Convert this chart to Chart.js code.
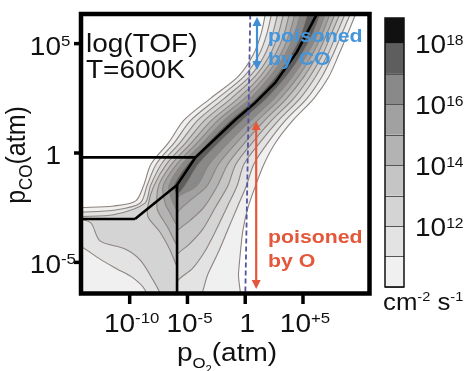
<!DOCTYPE html>
<html>
<head>
<meta charset="utf-8">
<script src="https://cdn.jsdelivr.net/npm/chart.js@4.4.0/dist/chart.umd.min.js"></script>
<style>
  html, body { margin: 0; padding: 0; background: #fff; }
</style>
</head>
<body>
<canvas id="myChart" width="468" height="371"></canvas>
<script>
// axes are log10 of the pressures, in decades
var pO2Ticks = [-10, -5, 0, 5];
var pO2Labels = [['10', '-10'], ['10', '-5'], ['1', ''], ['10', '+5']];
var pCOTicks = [-5, 0, 5];
var pCOLabels = [['10', '-5'], ['1', ''], ['10', '5']];

// colour bar: log10 TOF (cm-2 s-1)
var tofLevels = [10, 11, 12, 13, 14, 15, 16, 17, 18];
var tofTicks = [12, 14, 16, 18];
var tofLabels = [['10', '12'], ['10', '14'], ['10', '16'], ['10', '18']];
var levelColors = ['#f0f0f0', '#e3e3e3', '#d4d4d4', '#c5c5c5', '#b3b3b3', '#a1a1a1', '#898989', '#5e5e5e', '#111111'];

// contour regions log(TOF) >= level, points are [log pO2, log pCO]
var contour10 = [[1.9, 6.8], [1.4, 5.5], [0.7, 4.5], [-0.6, 3.5], [-3.0, 2.5], [-5.3, 1.5], [-6.6, 0.5], [-8.15, -0.5], [-8.8, -1.5],
  [-9.5, -2.2], [-11.4, -2.42], [-14.3, -2.5], [-15, -2.52], [-15, -7], [-0.75, -7],
  [-0.58, -5.5], [-0.41, -4.5], [-0.19, -3.5], [0.24, -2.5], [0.89, -1.5], [1.63, -0.5], [2.66, 0.5], [4.14, 1.5], [5.95, 2.5],
  [7.25, 3.5], [8.1, 4.5], [8.9, 5.5], [9.9, 6.8]];
var contour11 = [[2.45, 6.8], [1.9, 5.5], [1.2, 4.5], [-0.1, 3.5], [-2.4, 2.5], [-4.7, 1.5], [-6.1, 0.5], [-7.7, -0.5], [-8.5, -1.5],
  [-9.1, -2.3], [-11.4, -2.62], [-14.3, -2.7], [-15, -2.72], [-15, -4.2], [-14.3, -4.25], [-12.57, -4.85], [-11.1, -5.3],
  [-9.71, -5.71], [-8.67, -6.26], [-8.3, -7], [-4.4, -7],
  [-3.2, -5.5], [-2.3, -4.5], [-1.5, -3.5], [-0.7, -2.5], [0.1, -1.5], [0.75, -0.5], [2.0, 0.5], [3.5, 1.5], [5.35, 2.5],
  [6.65, 3.5], [7.6, 4.5], [8.4, 5.5], [9.45, 6.8]];
var contour12 = [[3.0, 6.8], [2.4, 5.5], [1.7, 4.5], [0.4, 3.5], [-1.8, 2.5], [-4.1, 1.5], [-5.6, 0.5], [-7.25, -0.5], [-8.2, -1.5],
  [-8.7, -2.3], [-11.4, -2.82], [-14.3, -2.9], [-15, -2.92], [-15, -3.0], [-14.3, -3.02], [-13.35, -3.2], [-12.57, -4.02],
  [-10.4, -4.39], [-9.1, -4.89], [-7.98, -5.81], [-7.2, -6.6], [-7.1, -7], [-5.9, -7], [-5.9, -5.9],
  [-4.6, -5.3], [-3.5, -4.5], [-2.5, -3.5], [-1.6, -2.5], [-0.7, -1.5], [-0.1, -0.5], [1.3, 0.5], [2.9, 1.5], [4.75, 2.5],
  [6.1, 3.5], [7.15, 4.5], [7.95, 5.5], [9.0, 6.8]];
var contour13 = [[3.5, 6.8], [2.9, 5.5], [2.15, 4.5], [0.85, 3.5], [-1.2, 2.5], [-3.5, 1.5], [-5.1, 0.5], [-6.8, -0.5], [-7.9, -1.5],
  [-8.41, -2.38], [-8.41, -2.93], [-7.38, -3.61], [-6.51, -4.43], [-5.9, -5.17], [-5.9, -4.66],
  [-4.9, -4.2], [-3.7, -3.5], [-2.6, -2.5], [-1.5, -1.5], [-0.8, -0.5], [0.65, 0.5], [2.3, 1.5], [4.2, 2.5],
  [5.6, 3.5], [6.7, 4.5], [7.5, 5.5], [8.55, 6.8]];
var contour14 = [[4.0, 6.8], [3.4, 5.5], [2.6, 4.5], [1.3, 3.5], [-0.6, 2.5], [-2.9, 1.5], [-4.6, 0.5], [-6.35, -0.5], [-7.5, -1.5],
  [-7.64, -2.51], [-7.38, -2.83], [-6.68, -3.43], [-5.9, -4.21], [-5.9, -3.6],
  [-4.8, -3.1], [-3.6, -2.5], [-2.4, -1.5], [-1.5, -0.5], [0.0, 0.5], [1.7, 1.5], [3.6, 2.5],
  [5.1, 3.5], [6.25, 4.5], [7.1, 5.5], [8.1, 6.8]];
var contour15 = [[4.5, 6.8], [3.85, 5.5], [3.05, 4.5], [1.75, 3.5], [-0.05, 2.5], [-2.35, 1.5], [-4.1, 0.5], [-5.9, -0.5], [-7.1, -1.5],
  [-6.94, -2.29], [-6.51, -2.74], [-5.9, -3.29], [-5.9, -2.74],
  [-4.6, -2.1], [-3.3, -1.5], [-2.3, -0.5], [-0.7, 0.5], [1.1, 1.5], [3.05, 2.5],
  [4.6, 3.5], [5.8, 4.5], [6.7, 5.5], [7.65, 6.8]];
var contour16 = [[5.0, 6.8], [4.3, 5.5], [3.45, 4.5], [2.15, 3.5], [0.45, 2.5], [-1.8, 1.5], [-3.6, 0.5], [-5.45, -0.5], [-6.6, -1.5],
  [-6.34, -2.15], [-5.9, -2.6], [-5.9, -2.06],
  [-4.2, -1.5], [-3.1, -0.5], [-1.4, 0.5], [0.5, 1.5], [2.5, 2.5], [4.1, 3.5], [5.35, 4.5], [6.3, 5.5], [7.25, 6.8]];
var contour17 = [[5.6, 6.8], [4.85, 5.5], [3.95, 4.5], [2.6, 3.5], [0.9, 2.5], [-1.3, 1.5], [-3.2, 0.5], [-5.0, -0.5], [-6.2, -1.5],
  [-5.9, -1.9], [-5.2, -1.5], [-4.0, -0.5], [-2.2, 0.5], [-0.2, 1.5], [1.9, 2.5], [3.6, 3.5], [4.9, 4.5], [5.9, 5.5], [6.85, 6.8]];
var contours = [contour10, contour11, contour12, contour13, contour14, contour15, contour16, contour17];

// phase boundaries and marker lines
var boundaryHigh = [[-14.6, -0.2], [-4.3, -0.2]];
var boundaryLow = [[-14.6, -3.02], [-9.54, -3.02]];
var boundaryDiag = [[-9.54, -3.02], [-5.9, -1.46], [-4.3, -0.2], [-0.88, 1.51], [0.85, 2.29], [2.58, 3.2], [4.48, 4.62], [6.3, 6.45], [6.35, 6.7]];
var boundaryVert = [[-5.9, -1.46], [-5.9, -6.7]];
var dashedLine = [[0.0, -6.7], [0.45, 6.7]];
var arrowCO = [1.02, 6.22, 3.79];   // x, y top, y bottom
var arrowO = [0.95, 1.46, -6.22];

var FONT = '"Liberation Sans", Arial, Helvetica, sans-serif';
var STRETCH = 1.12;

function toXY(arr) {
    return arr.map(function(p) { return {x: p[0], y: p[1]}; });
}

function setFont(ctx, p) {
    ctx.font = (p.bold ? 'bold ' : '') + p.size + 'px ' + FONT;
}

function partsWidth(ctx, parts) {
    var w = 0;
    parts.forEach(function(p) { setFont(ctx, p); w += ctx.measureText(p.text).width; });
    return w;
}

// text drawn a bit wider than the font, like the original figure
function drawParts(ctx, parts, x, y, align, color, rotate) {
    ctx.save();
    ctx.translate(x, y);
    ctx.scale(STRETCH, 1);
    if (rotate) ctx.rotate(-Math.PI / 2);
    var w = partsWidth(ctx, parts);
    var cx = align === 'center' ? -w / 2 : (align === 'right' ? -w : 0);
    ctx.textAlign = 'left';
    ctx.textBaseline = 'alphabetic';
    ctx.fillStyle = color || '#111';
    parts.forEach(function(p) {
        setFont(ctx, p);
        ctx.fillText(p.text, cx, p.dy || 0);
        cx += ctx.measureText(p.text).width;
    });
    ctx.restore();
}

function arrow(ctx, x, y1, y2, color) {
    var h = 9, hw = 4.5;
    ctx.save();
    ctx.strokeStyle = color;
    ctx.fillStyle = color;
    ctx.lineWidth = 2.2;
    ctx.beginPath();
    ctx.moveTo(x, y1 + h - 1);
    ctx.lineTo(x, y2 - h + 1);
    ctx.stroke();
    ctx.beginPath();
    ctx.moveTo(x, y1); ctx.lineTo(x - hw, y1 + h); ctx.lineTo(x + hw, y1 + h); ctx.closePath();
    ctx.fill();
    ctx.beginPath();
    ctx.moveTo(x, y2); ctx.lineTo(x - hw, y2 - h); ctx.lineTo(x + hw, y2 - h); ctx.closePath();
    ctx.fill();
    ctx.restore();
}

// fills each contour polygon under its own outline
var contourFill = {
    id: 'contourFill',
    beforeDatasetDraw: function(chart, args) {
        var ds = chart.data.datasets[args.index];
        if (!ds.fillColor) return;
        var ctx = chart.ctx, a = chart.chartArea, line = args.meta.dataset;
        ctx.save();
        ctx.beginPath();
        ctx.rect(a.left, a.top, a.right - a.left, a.bottom - a.top);
        ctx.clip();
        ctx.beginPath();
        if (line && line.path) {
            if (line.updateControlPoints) line.updateControlPoints(a, 'x');
            line.path(ctx);
        } else {
            args.meta.data.forEach(function(pt, i) {
                if (i === 0) ctx.moveTo(pt.x, pt.y); else ctx.lineTo(pt.x, pt.y);
            });
        }
        ctx.closePath();
        ctx.fillStyle = ds.fillColor;
        ctx.fill();
        ctx.restore();
    }
};

var frame = {
    id: 'frame',
    afterDraw: function(chart) {
        var ctx = chart.ctx, a = chart.chartArea;
        var xs = chart.scales.x, ys = chart.scales.y, cb = chart.scales.cb;

        // annotations
        var blue = '#4396dc', red = '#e4573a';
        arrow(ctx, xs.getPixelForValue(arrowCO[0]), ys.getPixelForValue(arrowCO[1]), ys.getPixelForValue(arrowCO[2]), '#3f8ed6');
        arrow(ctx, xs.getPixelForValue(arrowO[0]), ys.getPixelForValue(arrowO[1]), ys.getPixelForValue(arrowO[2]), red);
        var tx = a.left + 188;
        drawParts(ctx, [{text: 'poisoned', size: 19, bold: true}], tx, a.top + 29, 'left', blue);
        drawParts(ctx, [{text: 'by CO', size: 19, bold: true}], tx, a.top + 52, 'left', blue);
        drawParts(ctx, [{text: 'poisoned', size: 19, bold: true}], tx, a.top + 230, 'left', red);
        drawParts(ctx, [{text: 'by O', size: 19, bold: true}], tx, a.top + 254, 'left', red);
        drawParts(ctx, [{text: 'log(TOF)', size: 25}], a.left + 6, a.top + 39, 'left', '#111');
        drawParts(ctx, [{text: 'T=600K', size: 25}], a.left + 6, a.top + 65, 'left', '#111');

        // plot frame
        ctx.save();
        ctx.strokeStyle = '#000';
        ctx.lineWidth = 4.5;
        ctx.strokeRect(a.left + 1, a.top + 1, a.right - a.left - 1.5, a.bottom - a.top - 0.5);
        ctx.lineWidth = 3.5;
        pO2Ticks.forEach(function(v) {
            var px = xs.getPixelForValue(v);
            ctx.beginPath(); ctx.moveTo(px, a.bottom); ctx.lineTo(px, a.bottom + 11); ctx.stroke();
        });
        pCOTicks.forEach(function(v) {
            var py = ys.getPixelForValue(v);
            ctx.beginPath(); ctx.moveTo(a.left - 6, py); ctx.lineTo(a.left + 1, py); ctx.stroke();
        });
        ctx.restore();

        // tick labels
        pO2Ticks.forEach(function(v, i) {
            var parts = [{text: pO2Labels[i][0], size: 25}];
            if (pO2Labels[i][1]) parts.push({text: pO2Labels[i][1], size: 15, dy: -9});
            drawParts(ctx, parts, xs.getPixelForValue(v) + 2, a.bottom + 39, 'center');
        });
        pCOTicks.forEach(function(v, i) {
            var py = ys.getPixelForValue(v) + 11;
            drawParts(ctx, [{text: pCOLabels[i][0], size: 25}], a.left - 19, py, 'right');
            if (pCOLabels[i][1]) drawParts(ctx, [{text: pCOLabels[i][1], size: 15}], a.left - 19, py - 9, 'left');
        });

        // axis titles
        drawParts(ctx, [{text: 'p', size: 25}, {text: 'O', size: 15, dy: 7}, {text: '2', size: 10, dy: 12}, {text: '(atm)', size: 25}],
            (a.left + a.right) / 2 + 2, a.bottom + 68, 'center');
        drawParts(ctx, [{text: 'p', size: 25}, {text: 'CO', size: 17, dy: 6}, {text: '(atm)', size: 25}],
            25, (a.top + a.bottom) / 2 + 2, 'center', '#111', true);

        // colour bar
        var bx = a.right + 15, bw = 19;
        var top = Math.max(cb.getPixelForValue(tofLevels[tofLevels.length - 1] + 1), a.top + 5);
        var bot = cb.getPixelForValue(tofLevels[0]);
        ctx.save();
        tofLevels.forEach(function(v, i) {
            var y1 = Math.max(cb.getPixelForValue(v + 1), top), y2 = cb.getPixelForValue(v);
            ctx.fillStyle = levelColors[i];
            ctx.fillRect(bx, y1, bw, y2 - y1);
        });
        ctx.strokeStyle = '#555';
        ctx.lineWidth = 1;
        tofLevels.forEach(function(v) {
            var y = Math.round(cb.getPixelForValue(v)) + 0.5;
            ctx.beginPath(); ctx.moveTo(bx, y); ctx.lineTo(bx + bw, y); ctx.stroke();
        });
        ctx.strokeStyle = '#111';
        ctx.lineWidth = 1.5;
        ctx.strokeRect(bx, top, bw, bot - top);
        ctx.restore();
        tofTicks.forEach(function(v, i) {
            drawParts(ctx, [{text: tofLabels[i][0], size: 25}, {text: tofLabels[i][1], size: 14, dy: -8}],
                bx + bw + 11, cb.getPixelForValue(v) + 10, 'left');
        });
        drawParts(ctx, [{text: 'cm', size: 23}, {text: '-2', size: 13, dy: -9}, {text: ' s', size: 23}, {text: '-1', size: 13, dy: -9}],
            bx - 2, a.bottom + 17, 'left');
    }
};

var datasets = [];
contours.forEach(function(c, i) {
    datasets.push({
        data: toXY(c),
        showLine: true,
        fillColor: levelColors[i],
        borderColor: '#8d847f',
        borderWidth: 1.1,
        tension: 0.3,
        pointRadius: 0,
        order: 30 - tofLevels[i]
    });
});
[boundaryHigh, boundaryLow, boundaryDiag, boundaryVert].forEach(function(b) {
    datasets.push({data: toXY(b), showLine: true, borderColor: '#000', borderWidth: 2.6, tension: 0, pointRadius: 0, order: 1});
});
datasets.push({data: toXY(dashedLine), showLine: true, borderColor: '#53539f', borderWidth: 1.8, borderDash: [5, 3],
    tension: 0, pointRadius: 0, order: 0});

var myChart = new Chart(document.getElementById('myChart').getContext('2d'), {
    type: 'scatter',
    data: { datasets: datasets },
    options: {
        responsive: false,
        animation: false,
        devicePixelRatio: 1,
        events: [],
        layout: { padding: { left: 80, top: 13, right: 98, bottom: 78 } },
        scales: {
            x: { type: 'linear', min: -14.3, max: 10.8, display: false },
            y: { type: 'linear', min: -6.4, max: 6.4, display: false },
            cb: { type: 'linear', position: 'right', min: 9.8, max: 19.0, display: false }
        },
        elements: { line: { capBezierPoints: false } },
        plugins: { legend: { display: false }, tooltip: { enabled: false } }
    },
    plugins: [contourFill, frame]
});
</script>
</body>
</html>
